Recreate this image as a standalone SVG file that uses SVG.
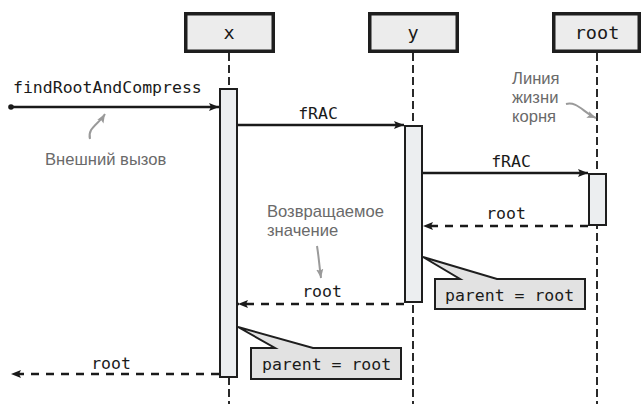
<svg xmlns="http://www.w3.org/2000/svg" width="641" height="404" viewBox="0 0 641 404">
<style>
.hdr{fill:#ececec;stroke:#1e1e1e;stroke-width:3.5}
.life{stroke:#2a2a2a;stroke-width:2;stroke-dasharray:8 4;fill:none}
.act{fill:#eceef0;stroke:#1e1e1e;stroke-width:2}
.msg{stroke:#1a1a1a;stroke-width:2.5;fill:none}
.ret{stroke:#1a1a1a;stroke-width:2.5;fill:none;stroke-dasharray:8 7}
.note{fill:#e2e2e2;stroke:#1e1e1e;stroke-width:2;stroke-linejoin:miter}
.mono{font-family:"DejaVu Sans Mono","Liberation Mono",monospace;font-size:16.5px;fill:#1a1a1a}
.htxt{font-family:"DejaVu Sans Mono","Liberation Mono",monospace;font-size:18.5px;fill:#1a1a1a;text-anchor:middle}
.ann{font-family:"Liberation Sans",Arial,sans-serif;font-size:16.6px;fill:#6a6a6a}
.gar{stroke:#9a9a9a;stroke-width:2;fill:none}
</style>
<defs>
<marker id="ah" markerUnits="userSpaceOnUse" viewBox="0 0 10 8" refX="10" refY="4" markerWidth="10" markerHeight="8" orient="auto">
<path d="M0,0 L10,4 L0,8 L2,4 Z" fill="#1a1a1a"/>
</marker>
<marker id="gh" markerUnits="userSpaceOnUse" viewBox="0 0 10 8" refX="10" refY="4" markerWidth="9" markerHeight="8" orient="auto">
<path d="M0,0 L10,4 L0,8 L2,4 Z" fill="#9a9a9a"/>
</marker>
</defs>

<g id="lifelines">
<line class="life" x1="229" y1="53" x2="229" y2="404"/>
<line class="life" x1="413" y1="53" x2="413" y2="404"/>
<line class="life" x1="597" y1="53" x2="597" y2="404"/>
</g>

<g id="node-x">
<rect class="hdr" x="185.75" y="13.75" width="87.5" height="37.5"/>
<text class="htxt" x="229" y="39">x</text>
</g>
<g id="node-y">
<rect class="hdr" x="369.75" y="13.75" width="87.5" height="37.5"/>
<text class="htxt" x="413" y="39">y</text>
</g>
<g id="node-root">
<rect class="hdr" x="553.75" y="13.75" width="85.5" height="37.5"/>
<text class="htxt" x="597" y="39">root</text>
</g>

<g id="activation-x"><rect class="act" x="220" y="89" width="17" height="288"/></g>
<g id="activation-y"><rect class="act" x="405" y="126" width="17" height="176"/></g>
<g id="activation-root"><rect class="act" x="589" y="174" width="17" height="51"/></g>

<g id="connectors">
<circle cx="11" cy="107" r="2.8" fill="#1a1a1a"/>
<line class="msg" x1="11" y1="107" x2="219" y2="107" marker-end="url(#ah)"/>
<line class="msg" x1="238" y1="125" x2="404" y2="125" marker-end="url(#ah)"/>
<line class="msg" x1="423" y1="173" x2="588" y2="173" marker-end="url(#ah)"/>
<line class="ret" x1="588" y1="226" x2="423" y2="226" marker-end="url(#ah)"/>
<line class="ret" x1="404" y1="304" x2="238" y2="304" marker-end="url(#ah)"/>
<line class="ret" x1="219" y1="374" x2="11" y2="374" marker-end="url(#ah)"/>
</g>

<g id="labels">
<text class="mono" x="13" y="93">findRootAndCompress</text>
<text class="mono" x="318" y="119" text-anchor="middle">fRAC</text>
<text class="mono" x="511" y="167" text-anchor="middle">fRAC</text>
<text class="mono" x="506" y="219" text-anchor="middle">root</text>
<text class="mono" x="322" y="297" text-anchor="middle">root</text>
<text class="mono" x="111" y="369" text-anchor="middle">root</text>
</g>

<g id="note-y">
<path class="note" d="M423,257 L497,279 L585,279 L585,309 L435,309 L435,279 L460,279 Z"/>
<text class="mono" x="445" y="301">parent = root</text>
</g>
<g id="note-x">
<path class="note" d="M238,327 L313,348 L401,348 L401,379 L251,379 L251,348 L275,348 Z"/>
<text class="mono" x="262" y="370">parent = root</text>
</g>

<g id="annotations">
<text class="ann" x="45" y="165">Внешний вызов</text>
<path class="gar" d="M90,139 C87,128 99,124 105,114" marker-end="url(#gh)"/>
<text class="ann" x="512" y="84">Линия</text>
<text class="ann" x="512" y="103">жизни</text>
<text class="ann" x="512" y="122">корня</text>
<path class="gar" d="M566,104 C577,101 584,113 596,118" marker-end="url(#gh)"/>
<text class="ann" x="267" y="217">Возвращаемое</text>
<text class="ann" x="267" y="236">значение</text>
<path class="gar" d="M317,246 C319,258 319,264 321,278" marker-end="url(#gh)"/>
</g>
</svg>
